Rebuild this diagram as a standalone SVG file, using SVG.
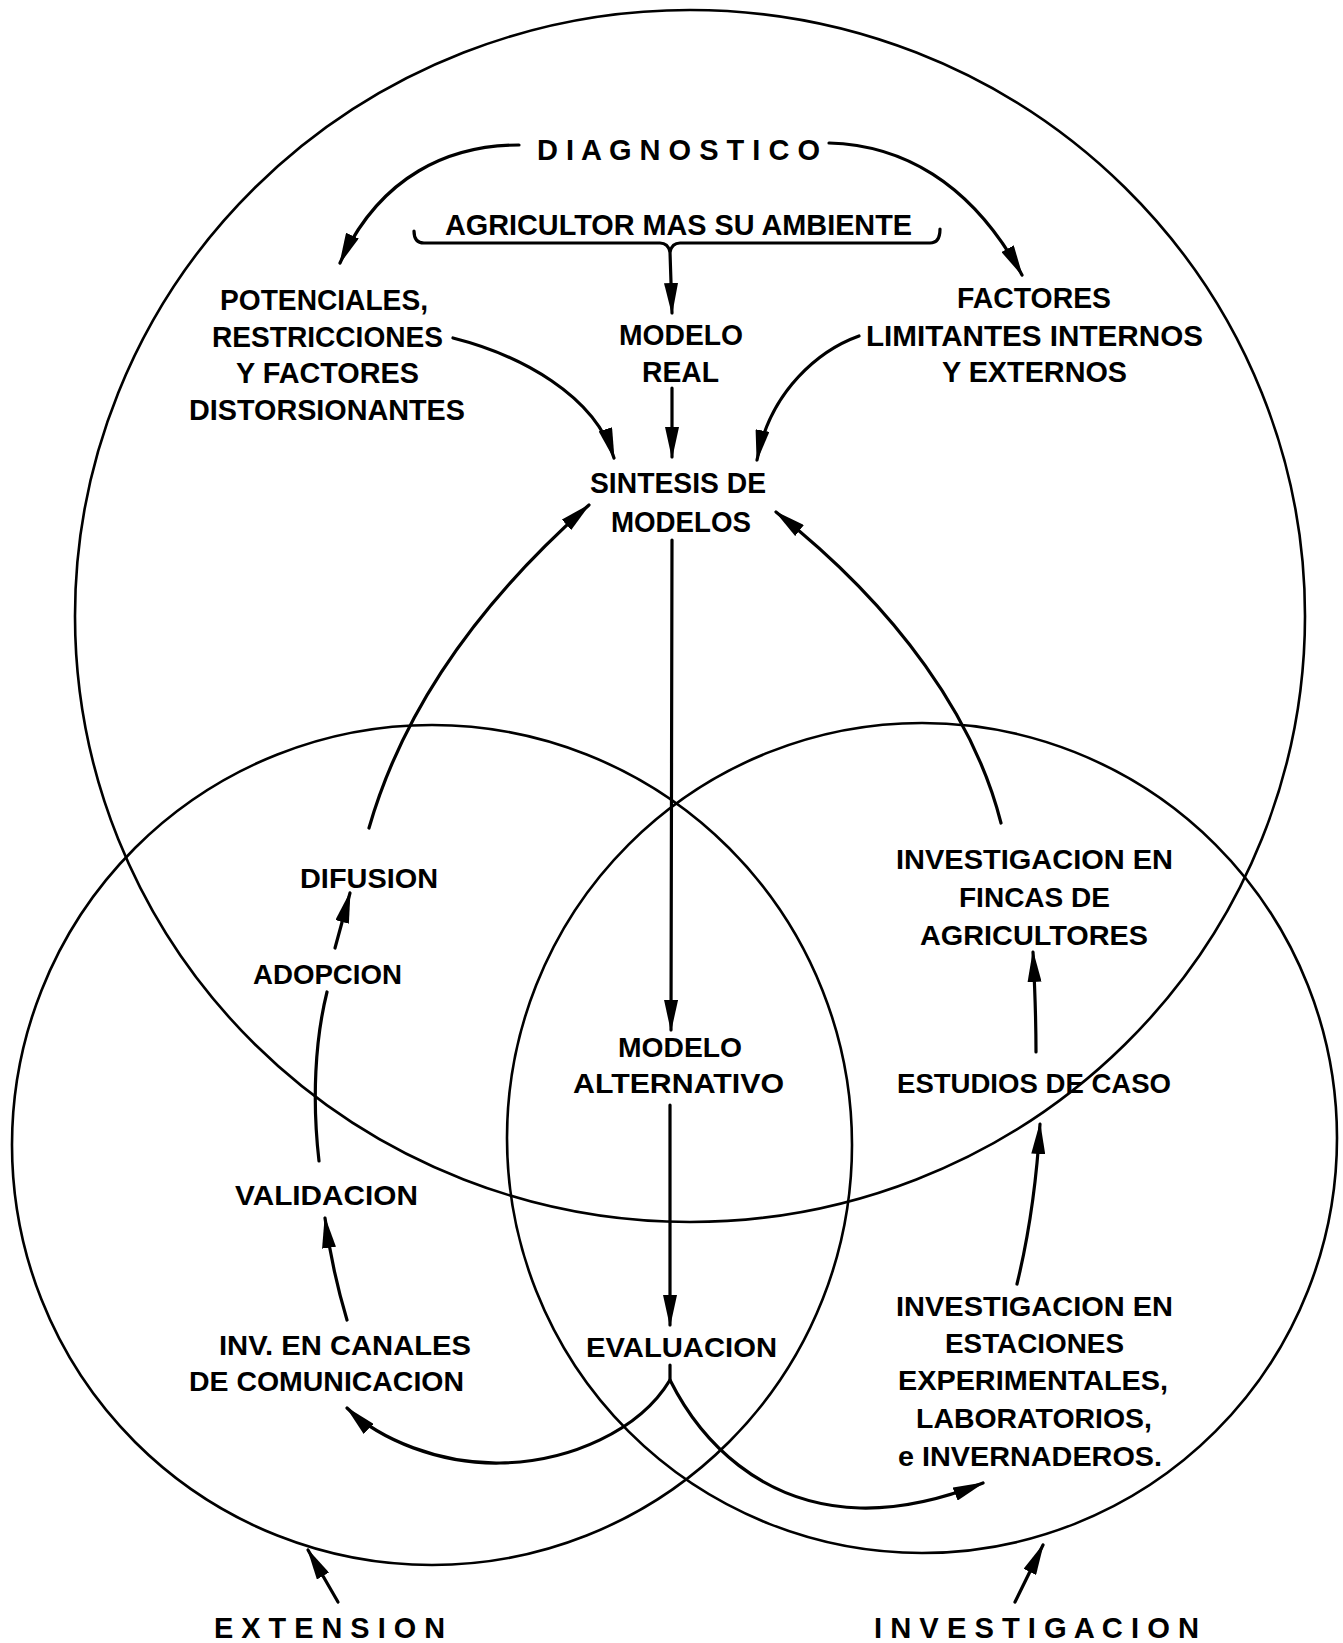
<svg xmlns="http://www.w3.org/2000/svg" width="1343" height="1643" viewBox="0 0 1343 1643">
<style>
.c{fill:none;stroke:#000;stroke-width:2.6}
.a{fill:none;stroke:#000;stroke-width:3.2;stroke-linecap:round}
.t{font-family:"Liberation Sans",Arial,sans-serif;font-weight:bold;fill:#000;text-anchor:middle}
.n{font-size:29px}
.w{font-size:28px}
.s{font-size:30px}
</style>
<defs>
<marker id="ah" markerUnits="userSpaceOnUse" viewBox="0 0 32 14" refX="30" refY="7" markerWidth="32" markerHeight="14" orient="auto">
<path d="M0,0 L32,7 L0,14 z" fill="#000"/>
</marker>
</defs>
<rect width="1343" height="1643" fill="#fff"/>
<g id="circles">
<ellipse id="diagnostico-circle" class="c" cx="690" cy="616" rx="615" ry="606"/>
<circle id="extension-circle" class="c" cx="432" cy="1145" r="420"/>
<circle id="investigacion-circle" class="c" cx="922" cy="1138" r="415"/>
</g>
<g id="connectors">
<path class="a" d="M519 145 C450 145 380 175 340 263" marker-end="url(#ah)"/>
<path class="a" d="M829 143 C900 145 970 180 1022 275" marker-end="url(#ah)"/>
<path class="a" d="M414 231 Q414 243 424 243 L660 243 Q668 243 670 252 Q672 243 680 243 L930 243 Q940 243 940 229"/>
<path class="a" d="M670 252 L672 313" marker-end="url(#ah)"/>
<path class="a" d="M672 388 L672 457" marker-end="url(#ah)"/>
<path class="a" d="M453 338 C520 355 595 395 614 458" marker-end="url(#ah)"/>
<path class="a" d="M859 336 C820 350 770 390 757 460" marker-end="url(#ah)"/>
<path class="a" d="M672 540 L671 1030" marker-end="url(#ah)"/>
<path class="a" d="M670 1105 L670 1325" marker-end="url(#ah)"/>
<path class="a" d="M670 1365 L670 1380 C640 1430 570 1462 500 1463 C440 1464 380 1440 347 1408" marker-end="url(#ah)"/>
<path class="a" d="M670 1380 C700 1440 760 1505 860 1508 C900 1509 940 1500 983 1483" marker-end="url(#ah)"/>
<path class="a" d="M347 1320 Q332 1270 325 1218" marker-end="url(#ah)"/>
<path class="a" d="M319 1161 C312 1100 315 1040 327 992"/>
<path class="a" d="M335 948 L350 893" marker-end="url(#ah)"/>
<path class="a" d="M369 828 C400 720 470 610 589 505" marker-end="url(#ah)"/>
<path class="a" d="M1017 1284 Q1035 1210 1040 1124" marker-end="url(#ah)"/>
<path class="a" d="M1036 1052 Q1036 1010 1033 952" marker-end="url(#ah)"/>
<path class="a" d="M1001 823 C975 720 900 610 776 512" marker-end="url(#ah)"/>
<path class="a" d="M338 1602 L308 1550" marker-end="url(#ah)"/>
<path class="a" d="M1015 1602 L1043 1545" marker-end="url(#ah)"/>
</g>
<g id="diagnostico"><text class="t s" x="678.5" y="160" textLength="283" lengthAdjust="spacingAndGlyphs">D I A G N O S T I C O</text></g>
<g id="agricultor"><text class="t s" x="678.5" y="235" textLength="467" lengthAdjust="spacingAndGlyphs">AGRICULTOR MAS SU AMBIENTE</text></g>
<g id="potenciales">
<text class="t n" x="324" y="310" textLength="208" lengthAdjust="spacingAndGlyphs">POTENCIALES,</text>
<text class="t n" x="327.5" y="347" textLength="231" lengthAdjust="spacingAndGlyphs">RESTRICCIONES</text>
<text class="t n" x="327.5" y="383" textLength="183" lengthAdjust="spacingAndGlyphs">Y FACTORES</text>
<text class="t n" x="327" y="420" textLength="276" lengthAdjust="spacingAndGlyphs">DISTORSIONANTES</text>
</g>
<g id="modelo-real">
<text class="t n" x="681" y="345" textLength="124" lengthAdjust="spacingAndGlyphs">MODELO</text>
<text class="t n" x="680.5" y="382" textLength="77" lengthAdjust="spacingAndGlyphs">REAL</text>
</g>
<g id="factores">
<text class="t n" x="1034" y="308" textLength="154" lengthAdjust="spacingAndGlyphs">FACTORES</text>
<text class="t n" x="1034.5" y="346" textLength="337" lengthAdjust="spacingAndGlyphs">LIMITANTES INTERNOS</text>
<text class="t n" x="1034.5" y="382" textLength="185" lengthAdjust="spacingAndGlyphs">Y EXTERNOS</text>
</g>
<g id="sintesis">
<text class="t n" x="678" y="493" textLength="176" lengthAdjust="spacingAndGlyphs">SINTESIS DE</text>
<text class="t n" x="681" y="532" textLength="140" lengthAdjust="spacingAndGlyphs">MODELOS</text>
</g>
<g id="difusion"><text class="t w" x="369" y="888" textLength="138" lengthAdjust="spacingAndGlyphs">DIFUSION</text></g>
<g id="adopcion"><text class="t w" x="327.5" y="984" textLength="149" lengthAdjust="spacingAndGlyphs">ADOPCION</text></g>
<g id="validacion"><text class="t w" x="326.5" y="1205" textLength="183" lengthAdjust="spacingAndGlyphs">VALIDACION</text></g>
<g id="inv-canales">
<text class="t w" x="345" y="1355" textLength="252" lengthAdjust="spacingAndGlyphs">INV. EN CANALES</text>
<text class="t w" x="326.5" y="1391" textLength="275" lengthAdjust="spacingAndGlyphs">DE COMUNICACION</text>
</g>
<g id="modelo-alternativo">
<text class="t w" x="680" y="1057" textLength="124" lengthAdjust="spacingAndGlyphs">MODELO</text>
<text class="t w" x="678.5" y="1093" textLength="211" lengthAdjust="spacingAndGlyphs">ALTERNATIVO</text>
</g>
<g id="evaluacion"><text class="t w" x="681.5" y="1357" textLength="191" lengthAdjust="spacingAndGlyphs">EVALUACION</text></g>
<g id="inv-fincas">
<text class="t w" x="1034.5" y="869" textLength="277" lengthAdjust="spacingAndGlyphs">INVESTIGACION EN</text>
<text class="t w" x="1034.5" y="907" textLength="151" lengthAdjust="spacingAndGlyphs">FINCAS DE</text>
<text class="t w" x="1034" y="945" textLength="228" lengthAdjust="spacingAndGlyphs">AGRICULTORES</text>
</g>
<g id="estudios"><text class="t w" x="1034" y="1093" textLength="274" lengthAdjust="spacingAndGlyphs">ESTUDIOS DE CASO</text></g>
<g id="inv-estaciones">
<text class="t w" x="1034.5" y="1316" textLength="277" lengthAdjust="spacingAndGlyphs">INVESTIGACION EN</text>
<text class="t w" x="1034.5" y="1353" textLength="179" lengthAdjust="spacingAndGlyphs">ESTACIONES</text>
<text class="t w" x="1033" y="1390" textLength="270" lengthAdjust="spacingAndGlyphs">EXPERIMENTALES,</text>
<text class="t w" x="1034" y="1428" textLength="236" lengthAdjust="spacingAndGlyphs">LABORATORIOS,</text>
<text class="t w" x="1030" y="1466" textLength="264" lengthAdjust="spacingAndGlyphs">e INVERNADEROS.</text>
</g>
<g id="extension"><text class="t s" x="329.5" y="1638" textLength="231" lengthAdjust="spacingAndGlyphs">E X T E N S I O N</text></g>
<g id="investigacion"><text class="t s" x="1036.5" y="1638" textLength="325" lengthAdjust="spacingAndGlyphs">I N V E S T I G A C I O N</text></g>
</svg>
